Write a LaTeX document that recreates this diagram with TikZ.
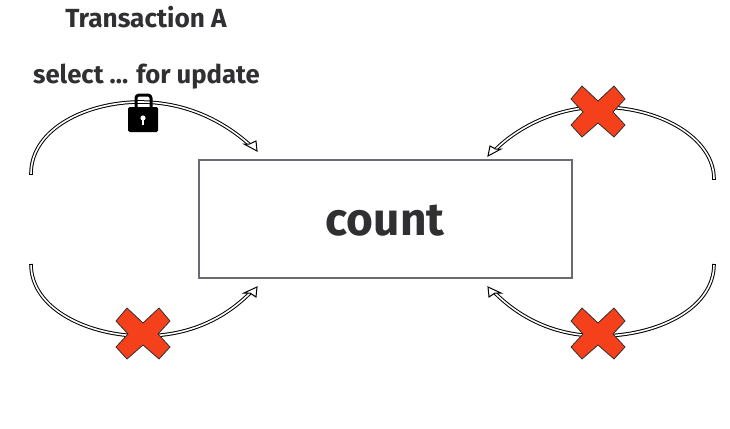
\documentclass[tikz,border=0pt]{standalone}
\usepackage{fontspec}
\setmainfont{Fira Sans}[BoldFont={Fira Sans Bold}]
\definecolor{ink}{HTML}{303033}
\definecolor{crossred}{HTML}{F5401C}
\definecolor{boxline}{HTML}{6A6A75}
\tikzset{
  x=1pt,y=-1pt,
  label text/.style={font=\bfseries\fontsize{26.2}{26.2}\selectfont,text=ink,inner sep=0pt,anchor=base},
  tube/.style={draw=black,line width=1pt,double=white,double distance=1.6pt},
  tubeend/.style={draw=black,line width=1pt},
  openhead/.style={draw=black,fill=white,line width=1pt,line join=miter},
  pics/redcross/.style={code={
    \draw[fill=crossred,draw=ink,line width=.8pt,line join=round]
      (0,-11)--(16,-26)--(27,-13)--(15,0)--(27,13)--(16,25)--(0,11)--(-16,25)--(-27,13)--(-15,0)--(-27,-13)--(-16,-26)--cycle;
  }}
}
\begin{document}
\begin{tikzpicture}
\useasboundingbox (0,0) rectangle (730,428);
\fill[white] (0,0) rectangle (730,428);

\node[draw=boxline,line width=1.2pt,fill=white,minimum width=373pt,minimum height=118pt,inner sep=0pt] (count) at (385.5,219) {};
\node[font=\bfseries\fontsize{46}{46}\selectfont,text=ink,inner sep=0pt,anchor=base] (countlabel) at (385,235) {count};
\node[label text] (title) at (146,28) {Transaction A};
\node[label text,font=\bfseries\fontsize{25.7}{25.7}\selectfont] (query) at (146.5,83) {select ... for update};

% free ends of the connectors
\coordinate (tlstart) at (31,174);
\coordinate (tlend) at (250,145);
\coordinate (trstart) at (714,179);
\coordinate (trend) at (495,150);
\coordinate (blstart) at (31,264);
\coordinate (blend) at (250,293);
\coordinate (brstart) at (714,264);
\coordinate (brend) at (495,293);

\draw[tube] (tlstart) .. controls (31,128) and (88,102) .. (140,102) .. controls (185,102) and (222,120) .. (tlend);
\draw[tube] (trstart) .. controls (714,138) and (660,107) .. (600,107) .. controls (560,107) and (520,125) .. (trend);
\draw[tube] (blstart) .. controls (31,310) and (90,336) .. (143,336) .. controls (190,336) and (225,318) .. (blend);
\draw[tube] (brstart) .. controls (714,310) and (655,336) .. (600,336) .. controls (555,336) and (520,318) .. (brend);

\draw[tubeend] (28.9,174) -- (33.1,174);
\draw[tubeend] (711.9,179) -- (716.1,179);
\draw[tubeend] (28.9,264) -- (33.1,264);
\draw[tubeend] (711.9,264) -- (716.1,264);

\draw[openhead] (257,151) -- (244,144) -- (249.5,144) -- (256,141) -- cycle;
\draw[openhead] (488,156) -- (501,149) -- (495.5,149) -- (490,146) -- cycle;
\draw[openhead] (257,287) -- (256,297) -- (250,293) -- (244,293) -- cycle;
\draw[openhead] (488,287) -- (489,297) -- (495,293) -- (501,293) -- cycle;

\pic at (598,112) {redcross};
\pic at (143,334) {redcross};
\pic at (598,334) {redcross};

% padlock
\draw[black,line width=3pt,line join=round,rounded corners=3pt] (136,108) -- (136,95) -- (151,95) -- (151,108);
\fill[black,rounded corners=1.5pt] (128,107) rectangle (158,132);
\fill[white] (143,118) circle (2.6pt);
\fill[white] (141.8,118) rectangle (144.2,125);
\end{tikzpicture}
\end{document}
